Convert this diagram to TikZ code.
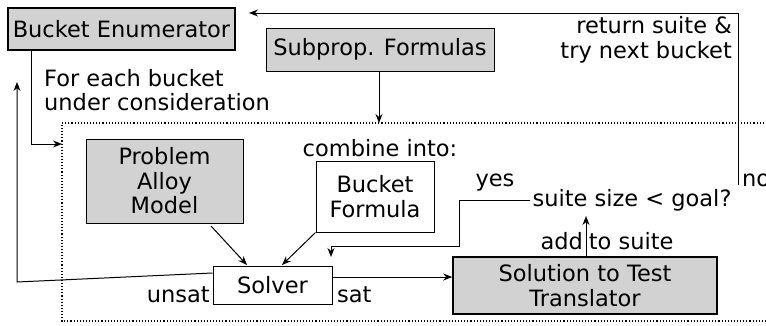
\documentclass[tikz,border=0pt]{standalone}
\usepackage{fontspec}
\setmainfont{DejaVu Sans}
\usetikzlibrary{arrows.meta}
\begin{document}
\begin{tikzpicture}[x=1pt,y=-1pt,
  every node/.style={font=\fontsize{22.5}{24.5}\selectfont},
  gbox/.style={draw, fill=gray!35, line width=1pt, inner sep=0pt, align=center},
  wbox/.style={draw, fill=white, line width=1pt, inner sep=0pt, align=center},
  lbl/.style={inner sep=1pt},
  conn/.style={line width=1pt},
  arr/.style={conn, -{Stealth[length=9pt,width=7pt]}}]
\useasboundingbox (0,0) rectangle (766,325);
% dotted frame
\draw[dotted, line width=1.1pt] (770,123) -- (62,123) -- (62,321) -- (770,321);
% boxes
\node[gbox, minimum width=227, minimum height=42, line width=1.2pt] (be) at (121.5,29) {Bucket Enumerator};
\node[gbox, minimum width=228, minimum height=43] (sf) at (380,49.5) {Subprop. Formulas};
\node[gbox, minimum width=157, minimum height=84] (pam) at (164.5,181) {Problem\\Alloy\\Model};
\node[wbox, minimum width=118, minimum height=71] (bf) at (375,196.5) {Bucket\\Formula};
\node[wbox, minimum width=119, minimum height=38] (sv) at (272.5,285) {Solver};
\node[gbox, minimum width=264, minimum height=57, line width=1.5pt] (st) at (585,285.5) {Solution to Test\\Translator};
% labels
\node[lbl] (ci) at (380,148) {combine into:};
\node[lbl, anchor=west, align=left] (fe) at (43,90) {For each bucket\\under consideration};
\node[lbl, anchor=east, align=right] (rs) at (733,40) {return suite \&\\try next bucket};
\node[lbl, inner sep=2pt] (q) at (632,200) {suite size < goal?};
\node[lbl] (yes) at (495,183) {yes};
\node[lbl, anchor=east] (unsat) at (211,295) {unsat};
\node[lbl, anchor=west] (sat) at (336,295) {sat};
\node[lbl] (add) at (607,241) {add\hspace{6pt}to suite};
\node[lbl, anchor=west] (no) at (741,180) {no};
% coordinates
\coordinate (dl) at (62,144);
\coordinate (dt) at (379,123);
\coordinate (lb) at (17,282);
\coordinate (lt) at (17,82);
\coordinate (nb) at (738,185);
\coordinate (nt) at (738,13);
\coordinate (ye) at (459,200);
\coordinate (y2) at (459,246);
\coordinate (y3) at (331,246);
\coordinate (y4) at (331,257);
% connectors
\draw[arr] (be.south -| 31,0) |- (dl);
\draw[arr] (sf.south -| dt) -- (dt);
\draw[arr] (211,226) -- (247,265);
\draw[arr] (bf.south west) -- (282,265);
\draw[arr] (sv.west |- 0,273) -- (lb) -- (lt);
\draw[arr] (sv.east |- 0,277) -- (st.west |- 0,277);
\draw[arr] (st.north -| 586,0) -- (586,216);
\draw[arr] (q.west) -- (ye) -- (y2) -- (y3) -- (y4);
\draw[arr] (nb) -- (nt) -- (249,13);
\end{tikzpicture}
\end{document}
